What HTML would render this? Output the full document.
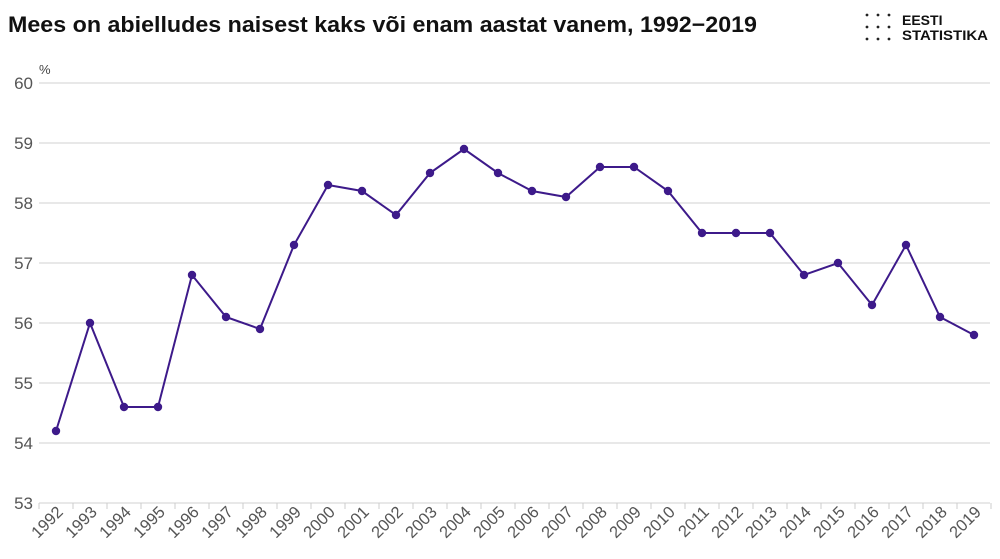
<!DOCTYPE html>
<html><head><meta charset="utf-8"><style>
body{margin:0;background:#fff;}
svg{display:block;font-family:"Liberation Sans",sans-serif;}
</style></head><body>
<svg width="1000" height="559" xmlns="http://www.w3.org/2000/svg">
<text x="8" y="32" font-size="22" font-weight="bold" fill="#111" textLength="749" lengthAdjust="spacingAndGlyphs">Mees on abielludes naisest kaks või enam aastat vanem, 1992−2019</text>
<g fill="#222">
<circle cx="867" cy="15" r="1.4"/><circle cx="878" cy="15" r="1.4"/><circle cx="889" cy="15" r="1.4"/>
<circle cx="867" cy="27" r="1.4"/><circle cx="878" cy="27" r="1.4"/><circle cx="889" cy="27" r="1.4"/>
<circle cx="867" cy="39" r="1.4"/><circle cx="878" cy="39" r="1.4"/><circle cx="889" cy="39" r="1.4"/>
</g>
<text x="902" y="25" font-size="14" font-weight="bold" fill="#111">EESTI</text>
<text x="902" y="40" font-size="14" font-weight="bold" fill="#111" textLength="86" lengthAdjust="spacingAndGlyphs">STATISTIKA</text>
<text x="39" y="74" font-size="13" fill="#444">%</text>
<g stroke="#d0d0d0" stroke-width="1">
<line x1="39" x2="990" y1="83" y2="83"/><line x1="39" x2="990" y1="143" y2="143"/>
<line x1="39" x2="990" y1="203" y2="203"/><line x1="39" x2="990" y1="263" y2="263"/>
<line x1="39" x2="990" y1="323" y2="323"/><line x1="39" x2="990" y1="383" y2="383"/>
<line x1="39" x2="990" y1="443" y2="443"/><line x1="39" x2="990" y1="503" y2="503"/>
</g>
<g font-size="17" fill="#555" text-anchor="end">
<text x="33" y="89">60</text><text x="33" y="149">59</text><text x="33" y="209">58</text>
<text x="33" y="269">57</text><text x="33" y="329">56</text><text x="33" y="389">55</text>
<text x="33" y="449">54</text><text x="33" y="509">53</text>
</g>
<g id="ticks" stroke="#ccc"></g>
<g id="labels" font-size="16.5" fill="#555" text-anchor="end"></g>
<polyline id="line" fill="none" stroke="#3d1a8a" stroke-width="2"/>
<g id="dots" fill="#3d1a8a"></g>
</svg>
<script>
var v=[54.2,56.0,54.6,54.6,56.8,56.1,55.9,57.3,58.3,58.2,57.8,58.5,58.9,58.5,58.2,58.1,58.6,58.6,58.2,57.5,57.5,57.5,56.8,57.0,56.3,57.3,56.1,55.8];
var ns="http://www.w3.org/2000/svg",pts=[],t=document.getElementById("ticks"),l=document.getElementById("labels"),d=document.getElementById("dots");
for(var i=0;i<=28;i++){var x=39+34*i;var e=document.createElementNS(ns,"line");e.setAttribute("x1",x);e.setAttribute("x2",x);e.setAttribute("y1",503);e.setAttribute("y2",509);t.appendChild(e);}
v.forEach(function(y,i){var x=56+34*i,yy=503-(y-53)*60;pts.push(x+","+yy);
var c=document.createElementNS(ns,"circle");c.setAttribute("cx",x);c.setAttribute("cy",yy);c.setAttribute("r",4.2);d.appendChild(c);
var tx=document.createElementNS(ns,"text");tx.setAttribute("transform","translate("+(x+8)+",513) rotate(-45)");tx.textContent=1992+i;l.appendChild(tx);});
document.getElementById("line").setAttribute("points",pts.join(" "));
</script>
</body></html>
